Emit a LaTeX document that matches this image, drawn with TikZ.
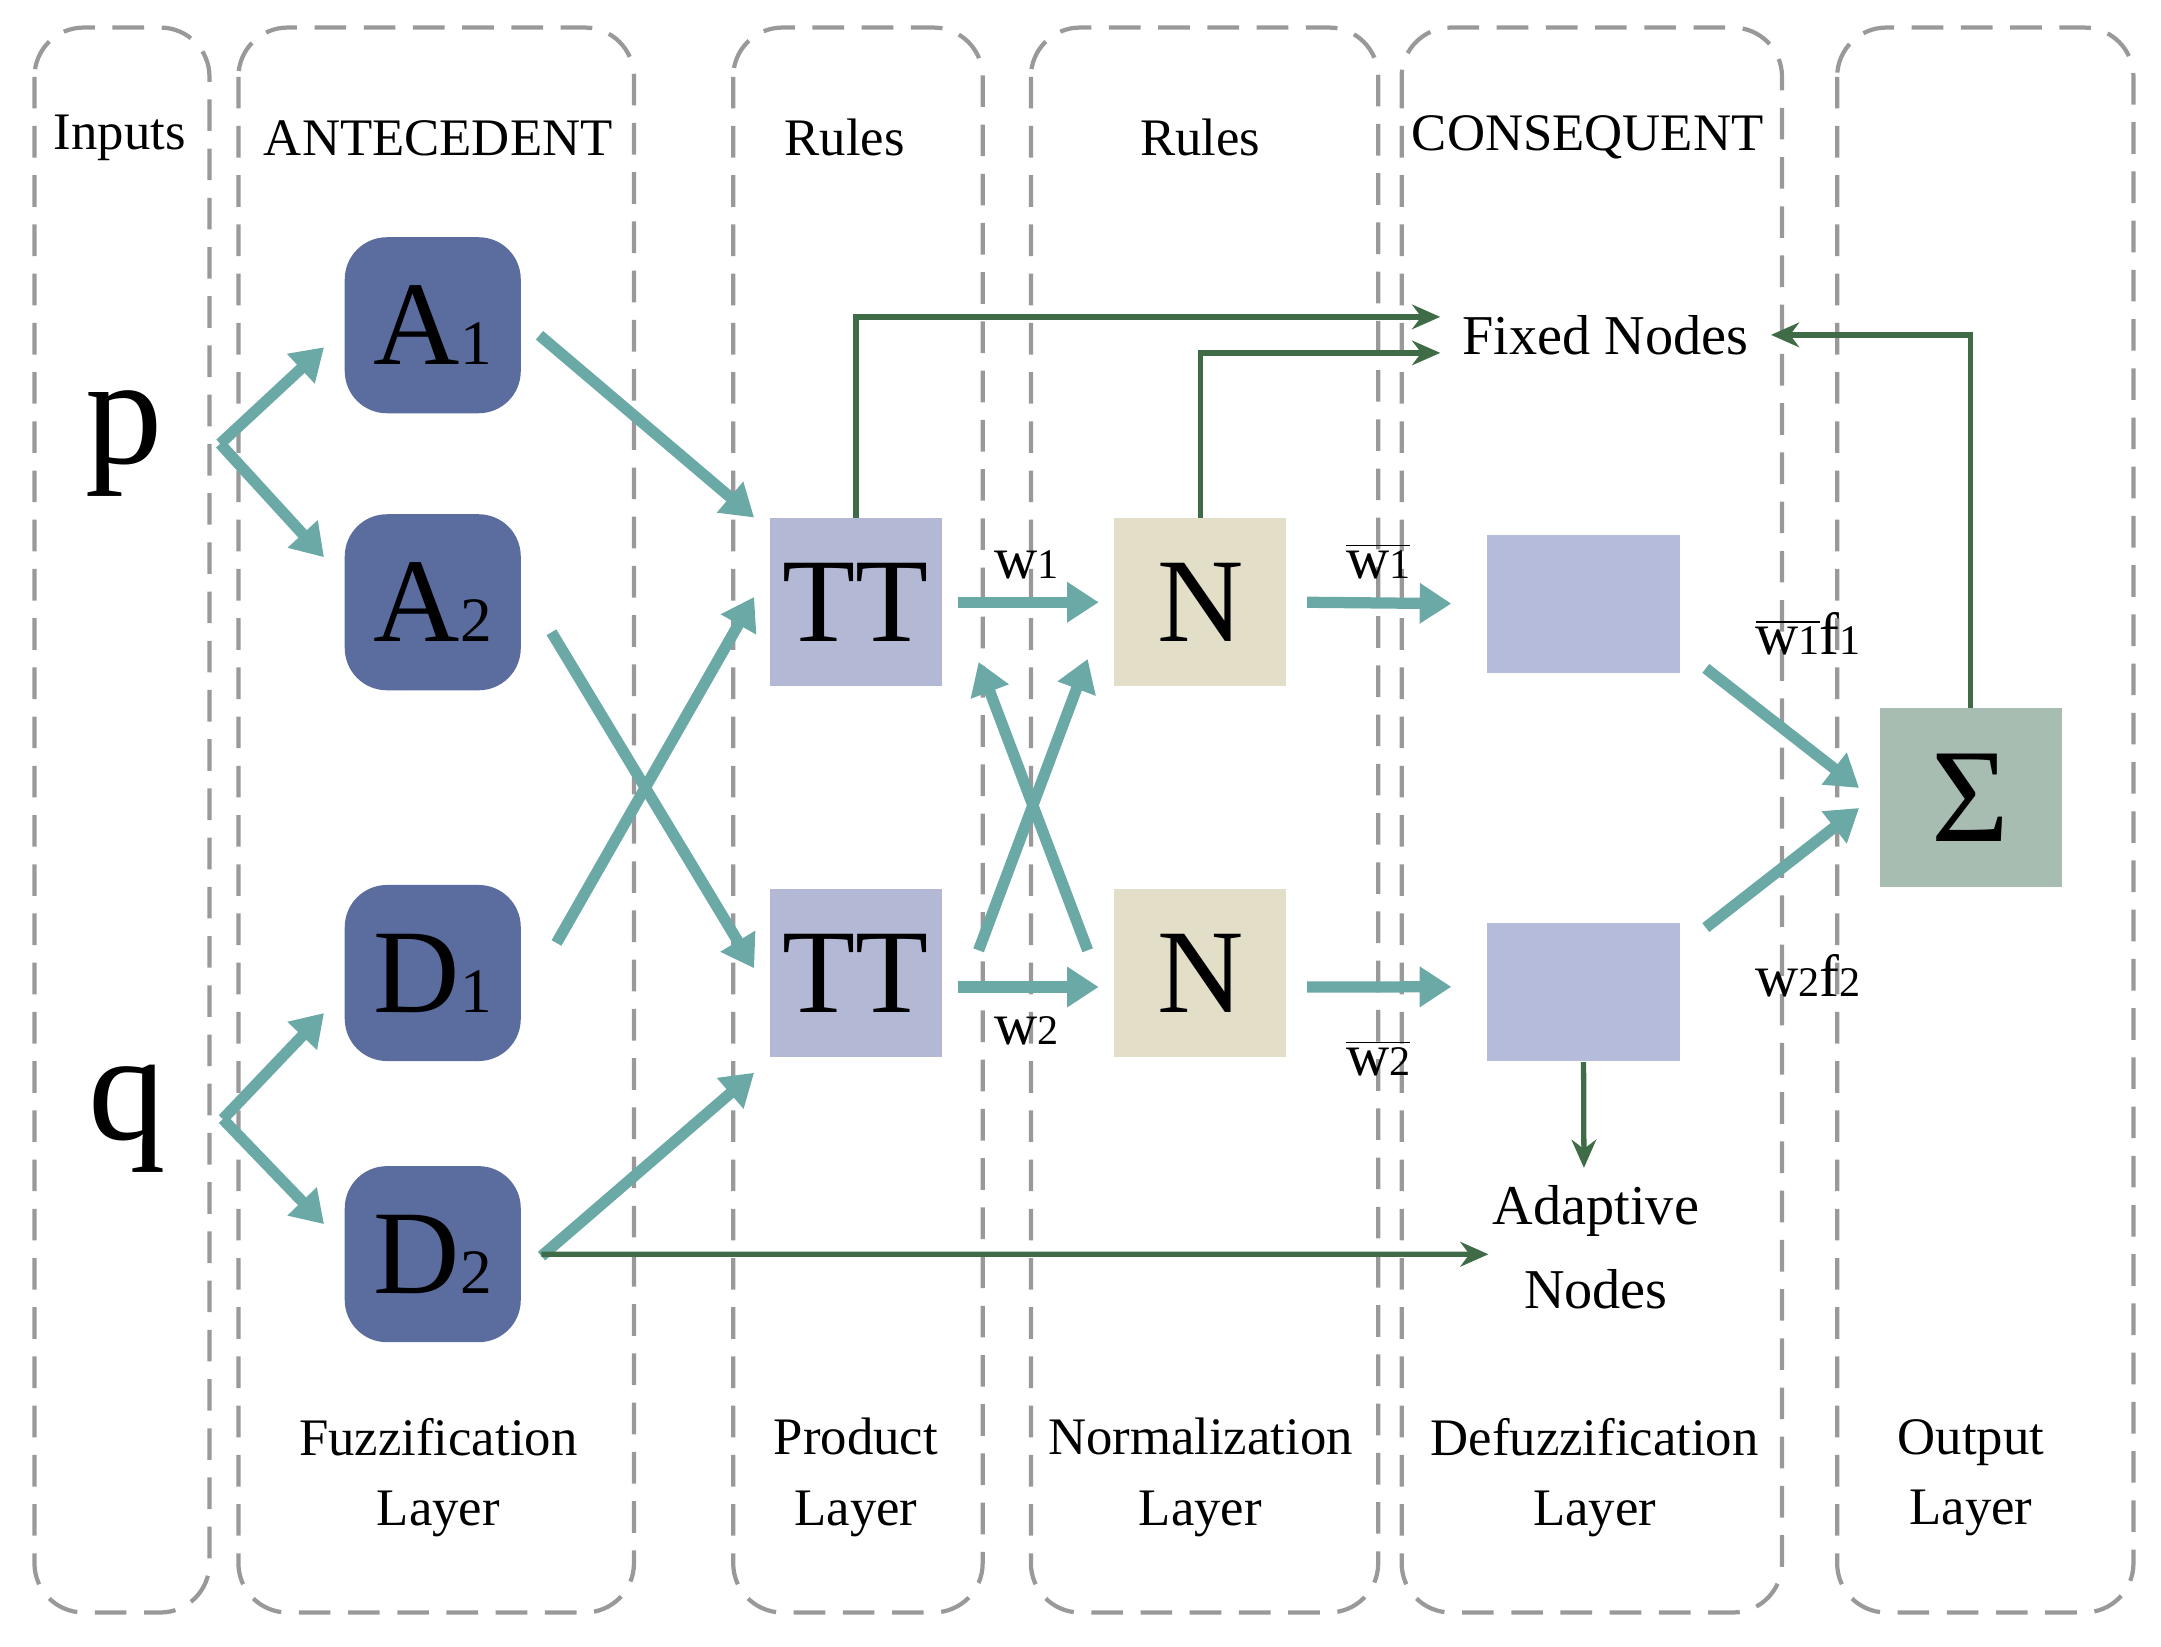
\documentclass[tikz,border=0pt]{standalone}
\usepackage{fontspec}
\setmainfont{Liberation Serif}
\usetikzlibrary{arrows.meta, positioning}
\definecolor{antblue}{HTML}{5B6C9E}
\definecolor{prodblue}{HTML}{B3B9D5}
\definecolor{normbeige}{HTML}{E3DEC8}
\definecolor{defblue}{HTML}{B5BCDB}
\definecolor{sumgreen}{HTML}{A8BDB2}
\definecolor{tealarr}{HTML}{6BA9A7}
\definecolor{darkarr}{HTML}{3F6B47}
\tikzset{
  column/.style={draw=gray!80, dash pattern=on 9pt off 5pt, line width=1.2pt, rounded corners=14pt},
  label/.style={font=\fontsize{15}{20}\selectfont, align=center},
  fuzz/.style={rectangle, rounded corners=12pt, fill=antblue, minimum width=1.76cm, minimum height=1.76cm, font=\fontsize{34}{34}\selectfont},
  prod/.style={rectangle, fill=prodblue, minimum width=1.72cm, minimum height=1.68cm, font=\fontsize{34}{34}\selectfont},
  norm/.style={rectangle, fill=normbeige, minimum width=1.72cm, minimum height=1.68cm, font=\fontsize{34}{34}\selectfont},
  defz/.style={rectangle, fill=defblue, minimum width=1.93cm, minimum height=1.38cm},
  teal/.style={draw=tealarr, line width=3.2pt, -{Triangle[length=9pt,width=11pt]}},
  green/.style={draw=darkarr, line width=1.5pt, -{Stealth[length=8pt,width=7pt]}},
  wlab/.style={font=\fontsize{17}{17}\selectfont}
}
\newcommand{\sm}[1]{{\fontsize{18}{18}\selectfont #1}}
\newcommand{\wsub}[1]{{\fontsize{12}{12}\selectfont #1}}
\begin{document}
\begin{tikzpicture}[x=0.01378cm, y=-0.01378cm]
  \useasboundingbox (0,0) rectangle (1568,1195);
  % layer columns
  \draw[column] (25,20) rectangle (152,1170);
  \draw[column] (173,20) rectangle (460,1170);
  \draw[column] (532,20) rectangle (713,1170);
  \draw[column] (748,20) rectangle (1000,1170);
  \draw[column] (1017,20) rectangle (1293,1170);
  \draw[column] (1333,20) rectangle (1548,1170);
  % headings
  \node[label] (tin)  at (87,100)   {Inputs};
  \node[label] (tant) at (318,100)  {ANTECEDENT};
  \node[label] (trl1) at (613,100)  {Rules};
  \node[label] (trl2) at (871,100)  {Rules};
  \node[label] (tcon) at (1152,100) {CONSEQUENT};
  \node[label] (bfuz) at (318,1072)  {Fuzzification\\Layer};
  \node[label] (bpro) at (621,1072)  {Product\\Layer};
  \node[label] (bnor) at (871,1072)  {Normalization\\Layer};
  \node[label] (bdef) at (1157,1072) {Defuzzification\\Layer};
  \node[label] (bout) at (1430,1072) {Output\\Layer};
  % inputs
  \node[font=\fontsize{44}{44}\selectfont] (p) at (90,322) {p};
  \node[font=\fontsize{44}{44}\selectfont] (q) at (92,812) {q};
  % antecedent
  \node[fuzz] (A1) at (314,236) {A\sm{1}};
  \node[fuzz] (A2) at (314,437) {A\sm{2}};
  \node[fuzz] (D1) at (314,706) {D\sm{1}};
  \node[fuzz] (D2) at (314,910) {D\sm{2}};
  % rules
  \node[prod] (T1) at (621,437) {TT};
  \node[prod] (T2) at (621,706) {TT};
  \node[norm] (N1) at (871,437) {N};
  \node[norm] (N2) at (871,706) {N};
  \node[defz] (F1) at (1149,438) {};
  \node[defz] (F2) at (1149,720) {};
  \node[rectangle, fill=sumgreen, minimum width=1.82cm, minimum height=1.79cm, font=\fontsize{38}{38}\selectfont] (S) at (1430,579) {Σ};
  \node[label, font=\fontsize{16}{20}\selectfont] (fixed) at (1165,243) {Fixed Nodes};
  \node[label, font=\fontsize{16}{24}\selectfont] (adapt) at (1158,905) {Adaptive\\Nodes};
  % weight labels
  \node[wlab] (lw1) at (745,410) {w\wsub{1}};
  \node[wlab] (lw2) at (745,748) {w\wsub{2}};
  \node[wlab] (lv1) at (1000,407) {$\overline{\mbox{w\wsub{1}}}$};
  \node[wlab] (lv2) at (1000,768) {$\overline{\mbox{w\wsub{2}}}$};
  \node[wlab] (lf1) at (1312,460) {$\overline{\mbox{w\wsub{1}}}$f\wsub{1}};
  \node[wlab] (lf2) at (1312,708) {w\wsub{2}f\wsub{2}};
  % teal connectors
  \draw[teal] ([xshift=0.45cm]p.east) -- ([xshift=-0.2cm,yshift=-0.22cm]A1.west);
  \draw[teal] ([xshift=0.45cm]p.east) -- ([xshift=-0.2cm,yshift=0.45cm]A2.west);
  \draw[teal] ([xshift=0.45cm]q.east) -- ([xshift=-0.2cm,yshift=-0.4cm]D1.west);
  \draw[teal] ([xshift=0.45cm]q.east) -- ([xshift=-0.2cm,yshift=0.3cm]D2.west);
  \draw[teal] ([xshift=0.18cm,yshift=-0.1cm]A1.east) -- ([xshift=-0.15cm]T1.north west);
  \draw[teal] ([xshift=0.3cm,yshift=-0.3cm]A2.east) -- ([xshift=-0.15cm,yshift=-0.8cm]T2.north west);
  \draw[teal] ([xshift=0.35cm,yshift=0.3cm]D1.east) -- ([xshift=-0.15cm,yshift=0.9cm]T1.south west);
  \draw[teal] ([xshift=0.2cm,yshift=-0.02cm]D2.east) -- ([xshift=-0.15cm,yshift=-0.15cm]T2.south west);
  \draw[teal] ([xshift=0.15cm,yshift=0cm]T1.east) -- ([xshift=-0.15cm]N1.west);
  \draw[teal] ([xshift=0.15cm,yshift=-0.14cm]T2.east) -- ([xshift=-0.15cm,yshift=-0.14cm]N2.west);
  \draw[teal] ([xshift=0.36cm,yshift=-0.62cm]T2.north east) -- ([xshift=-0.26cm,yshift=0.28cm]N1.south west);
  \draw[teal] ([xshift=-0.26cm,yshift=-0.62cm]N2.north west) -- ([xshift=0.36cm,yshift=0.25cm]T1.south east);
  \draw[teal] ([xshift=0.2cm]N1.east) -- ([xshift=-0.35cm]F1.west);
  \draw[teal] ([xshift=0.2cm,yshift=-0.14cm]N2.east) -- ([xshift=-0.35cm,yshift=0.055cm]F2.west);
  \draw[teal] ([xshift=0.25cm,yshift=0.05cm]F1.south east) -- ([xshift=-0.2cm,yshift=0.1cm]S.west);
  \draw[teal] ([xshift=0.25cm,yshift=-0.05cm]F2.north east) -- ([xshift=-0.2cm,yshift=-0.1cm]S.west);
  % dark green connectors
  \draw[green] (T1.north) |- ([xshift=-0.1cm,yshift=0.18cm]fixed.west);
  \draw[green] (N1.north) |- ([xshift=-0.1cm,yshift=-0.18cm]fixed.west);
  \draw[green] (S.north) |- ([xshift=0.1cm]fixed.east);
  \draw[green] (F2.south) -- ([xshift=-0.12cm,yshift=0.05cm]adapt.north);
  \draw[green] ([xshift=0.2cm]D2.east) -- ([xshift=0.08cm,yshift=-0.07cm]adapt.west);
\end{tikzpicture}
\end{document}
